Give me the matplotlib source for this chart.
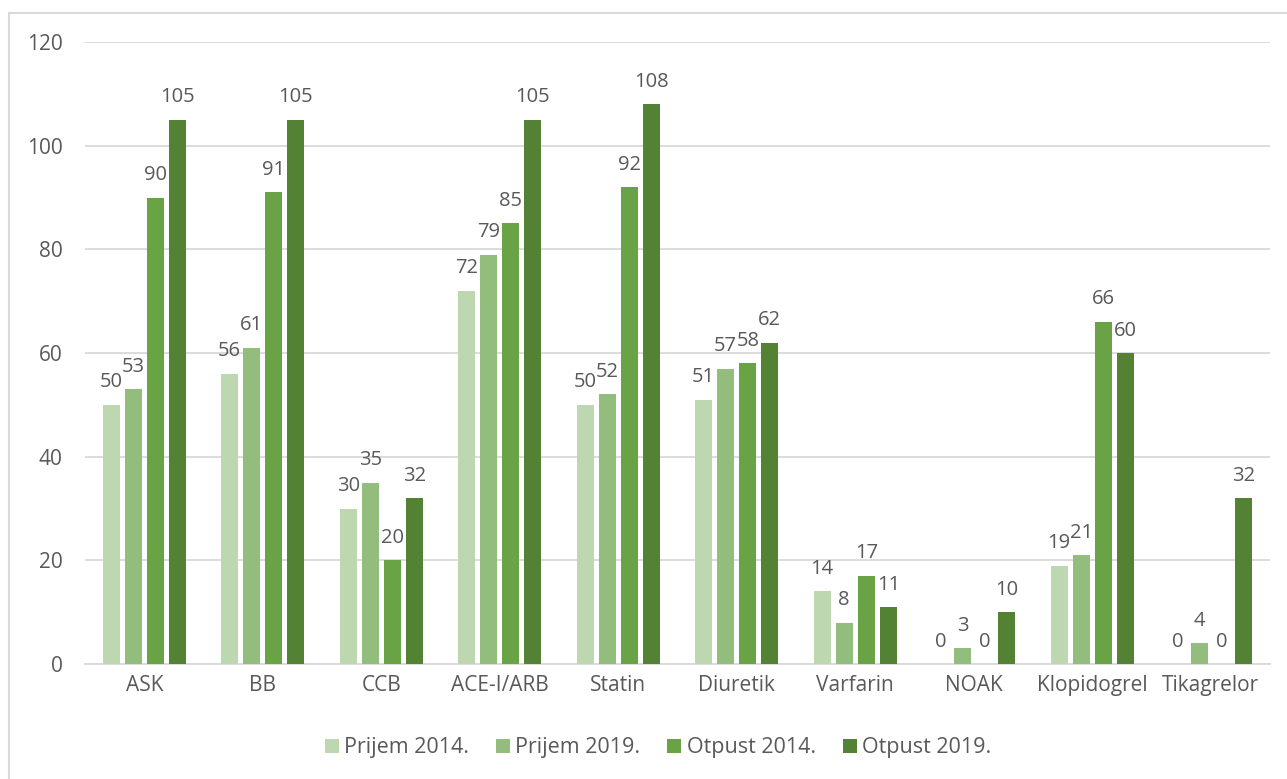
import matplotlib.pyplot as plt
import numpy as np
from matplotlib.patches import Rectangle

categories = ['ASK', 'BB', 'CCB', 'ACE-I/ARB', 'Statin', 'Diuretik', 'Varfarin', 'NOAK', 'Klopidogrel', 'Tikagrelor']
series_names = ['Prijem 2014.', 'Prijem 2019.', 'Otpust 2014.', 'Otpust 2019.']
prijem_2014 = [50, 56, 30, 72, 50, 51, 14, 0, 19, 0]
prijem_2019 = [53, 61, 35, 79, 52, 57, 8, 3, 21, 4]
otpust_2014 = [90, 91, 20, 85, 92, 58, 17, 0, 66, 0]
otpust_2019 = [105, 105, 32, 105, 108, 62, 11, 10, 60, 32]

color_list = ['#BDD7B1', '#93BD7D', '#6AA345', '#548235']
text_color = '#595959'
grid_color = '#D9D9D9'

plt.rcParams['font.family'] = ['Open Sans', 'DejaVu Sans']

fig = plt.figure(figsize=(12.87, 7.79), dpi=100)
fig.patches.append(Rectangle((9 / 1287, -0.01), 1.02, 1 - 13 / 779 + 0.01, transform=fig.transFigure,
                             fill=False, edgecolor=grid_color, linewidth=1.5))
ax = fig.add_axes([85 / 1287, 1 - 664 / 779, (1270 - 85) / 1287, (664 - 42) / 779])

x = np.arange(len(categories))
pitch = 0.186
width = 0.143
all_series = [prijem_2014, prijem_2019, otpust_2014, otpust_2019]
for i, vals in enumerate(all_series):
    pos = x + (i - 1.5) * pitch
    rects = ax.bar(pos, vals, width=width, color=color_list[i], label=series_names[i], zorder=3)
    for rect, v in zip(rects, vals):
        ax.text(rect.get_x() + rect.get_width() / 2, v + 2.4, str(v), ha='center', va='bottom',
                fontsize=14.5, color=text_color)

ax.set_xlim(-0.5, len(categories) - 0.5)
ax.set_ylim(0, 120)
ax.set_yticks(range(0, 121, 20))
ax.yaxis.grid(True, color=grid_color, linewidth=1.3, zorder=0)
ax.set_axisbelow(True)
for s in ['top', 'right', 'left']:
    ax.spines[s].set_visible(False)
ax.spines['bottom'].set_color(grid_color)
ax.spines['bottom'].set_linewidth(1.3)
ax.set_xticks(x)
ax.set_xticklabels(categories)
ax.tick_params(axis='both', length=0, labelsize=15, labelcolor=text_color)
ax.tick_params(axis='y', pad=16)
ax.tick_params(axis='x', pad=8)

fig.legend(loc='center', bbox_to_anchor=(658 / 1287, 1 - 748 / 779), ncol=4, frameon=False,
           fontsize=15.5, labelcolor=text_color, handlelength=0.65, handleheight=0.65,
           handletextpad=0.25, columnspacing=1.25)

plt.savefig('out.png', dpi=100)
